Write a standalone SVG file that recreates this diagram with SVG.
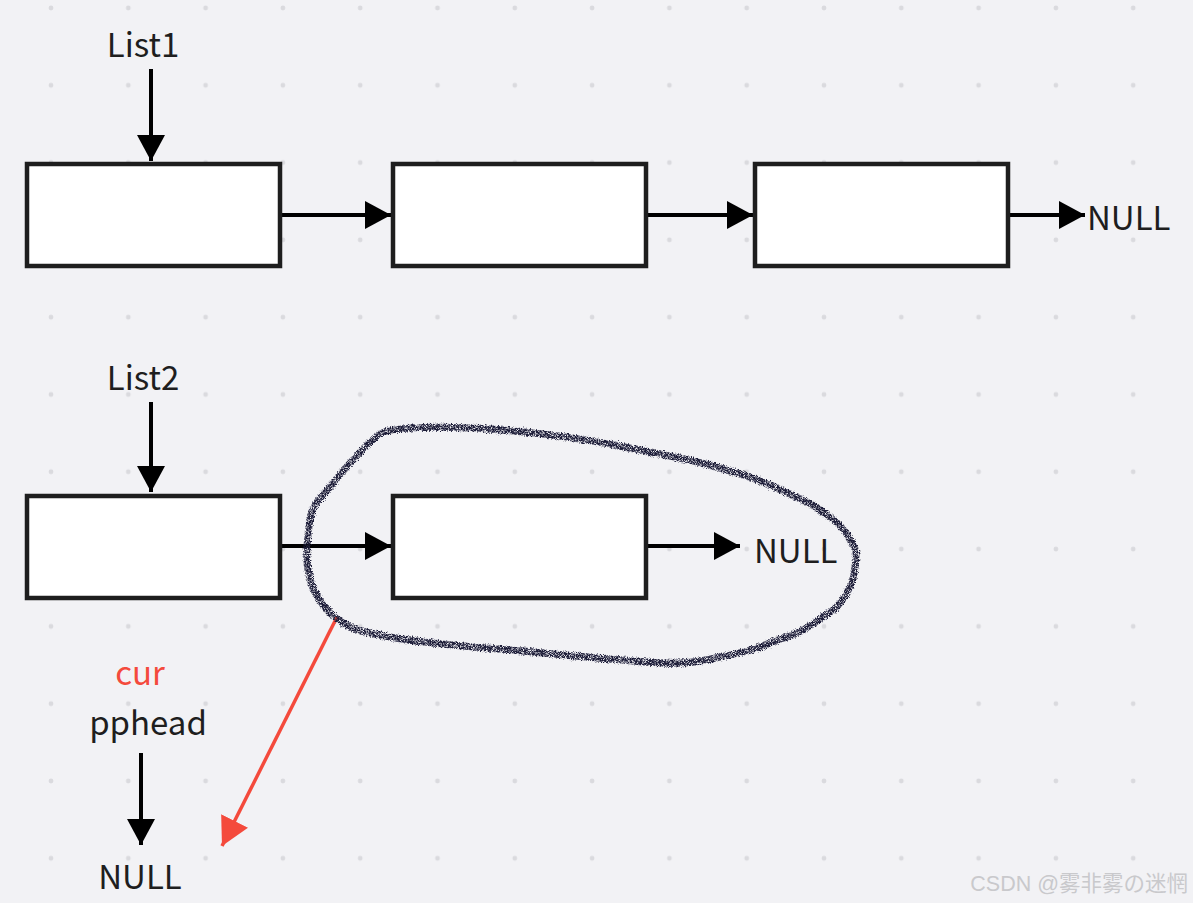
<svg xmlns="http://www.w3.org/2000/svg" width="1193" height="903" viewBox="0 0 1193 903">
<style>
.box{fill:#fff;stroke:#1e1e1e;stroke-width:4.5}
.ln{stroke:#000;stroke-width:4;fill:none}
.red{stroke:#f44a3c;stroke-width:3.5;fill:none}
.t{font-family:"Noto Sans CJK SC","Noto Sans",sans-serif;font-size:33px;fill:#1e1e1e}
.wm{font-family:"Liberation Sans","Noto Sans CJK SC",sans-serif;font-size:21.5px;fill:#c9c9cc}
</style>
<defs>
<pattern id="dots" patternUnits="userSpaceOnUse" x="12.35" y="-30.65" width="77.3" height="77.3">
<circle cx="38.65" cy="38.65" r="2.4" fill="#dadade"/>
</pattern>
<marker id="ah" markerUnits="userSpaceOnUse" markerWidth="26" markerHeight="28" refX="26" refY="14" orient="auto">
<path d="M0,0 L26,14 L0,28 z" fill="#000"/>
</marker>
<marker id="ahr" markerUnits="userSpaceOnUse" markerWidth="28" markerHeight="30" refX="28" refY="15" orient="auto">
<path d="M0,0 L28,15 L0,30 z" fill="#f44a3c"/>
</marker>
<filter id="pencil" x="-10%" y="-10%" width="120%" height="120%">
<feTurbulence type="fractalNoise" baseFrequency="1.4" numOctaves="2" seed="5" result="n"/>
<feDisplacementMap in="SourceGraphic" in2="n" scale="5" xChannelSelector="R" yChannelSelector="G" result="d"/>
<feColorMatrix in="n" type="matrix" values="0 0 0 0 0  0 0 0 0 0  0 0 0 0 0  -3 0 0 0 2.3" result="m"/>
<feComposite in="d" in2="m" operator="in"/>
</filter>
</defs>
<rect width="1193" height="903" fill="#f2f2f5"/>
<rect width="1193" height="903" fill="url(#dots)"/>

<g id="connectors">
<path class="ln" d="M151,69 V161" marker-end="url(#ah)"/>
<path class="ln" d="M282,215 H391" marker-end="url(#ah)"/>
<path class="ln" d="M648,215 H753" marker-end="url(#ah)"/>
<path class="ln" d="M1010,215 H1085" marker-end="url(#ah)"/>
<path class="ln" d="M151,402 V492" marker-end="url(#ah)"/>
<path class="ln" d="M282,546 H391" marker-end="url(#ah)"/>
<path class="ln" d="M648,546 H740" marker-end="url(#ah)"/>
<path class="ln" d="M141,753 V845" marker-end="url(#ah)"/>
<path class="red" d="M337,617 L222,846" marker-end="url(#ahr)"/>
</g>

<g id="list1-label"><text class="t" x="143" y="57" text-anchor="middle">List1</text></g>
<g id="node1"><rect class="box" x="27" y="164" width="253" height="102"/></g>
<g id="node2"><rect class="box" x="393" y="164" width="253" height="102"/></g>
<g id="node3"><rect class="box" x="755" y="164" width="253" height="102"/></g>
<g id="null1"><text class="t" x="1087" y="230">NULL</text></g>

<g id="list2-label"><text class="t" x="143" y="390" text-anchor="middle">List2</text></g>
<g id="node4"><rect class="box" x="27" y="496" width="253" height="102"/></g>
<g id="node5"><rect class="box" x="393" y="496" width="253" height="102"/></g>
<g id="null2"><text class="t" x="754" y="563">NULL</text></g>

<g id="circle">
<path d="M376,437 C380,428 420,426 471,428 C520,430 580,438 624,447 C660,454 690,460 701,463 C730,471 745,475 758,480 C785,492 800,498 816,507 C835,520 843,527 846,533 C853,545 857,550 856,557 C855,570 854,580 850,587 C842,603 835,610 823,617 C805,630 795,635 777,640 C755,650 740,653 720,657 C700,662 680,664 663,663 C640,662 610,659 586,657 C560,655 535,652 510,650 C485,648 460,646 433,643 C405,640 380,636 357,630 C345,625 337,620 330,613 C320,603 315,595 311,583 C307,570 306,560 307,547 C308,535 309,522 311,513 C315,503 322,495 330,487 C338,477 345,468 353,460 C360,452 368,443 376,437" fill="none" stroke="#1c1c38" stroke-width="7" stroke-linejoin="round" filter="url(#pencil)"/>
</g>

<g id="cur-label"><text class="t" x="140" y="685" text-anchor="middle" style="fill:#f44a3c">cur</text></g>
<g id="pphead-label"><text class="t" x="148" y="735" text-anchor="middle">pphead</text></g>
<g id="null3"><text class="t" x="140" y="889" text-anchor="middle">NULL</text></g>

<text class="wm" x="1188" y="891" text-anchor="end">CSDN @雾非雾の迷惘</text>
</svg>
